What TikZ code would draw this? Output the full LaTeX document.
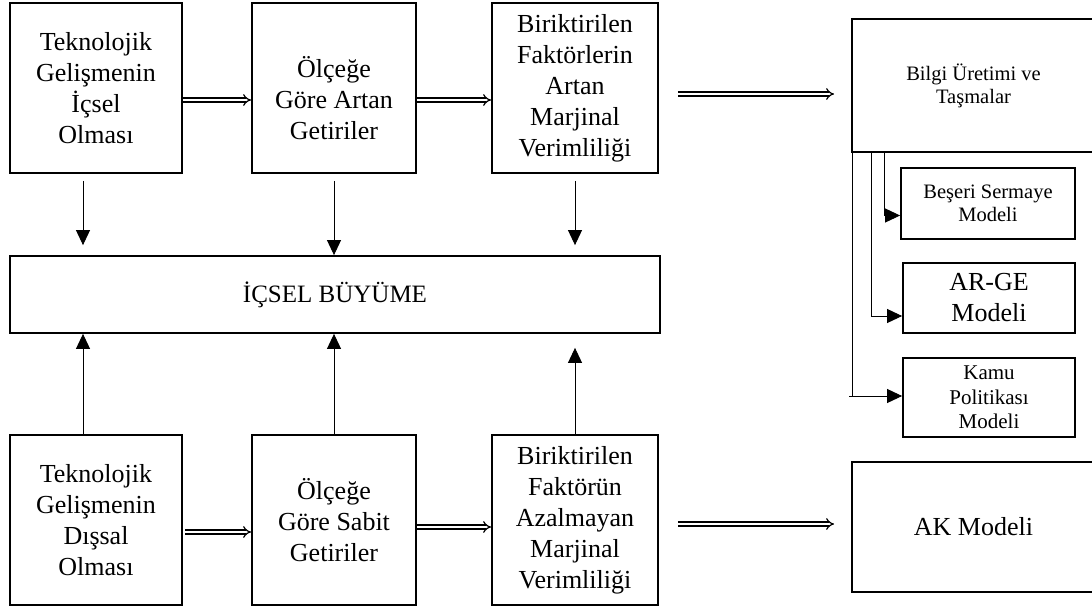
\documentclass[tikz,border=0pt]{standalone}
\usepackage{fontspec}
\setmainfont{Liberation Serif}
\usetikzlibrary{arrows.meta,calc}
\tikzset{
  bx/.style={draw, line width=1.8pt, align=center, inner sep=0pt, font=\fontsize{26}{31}\selectfont},
  smallbx/.style={draw, line width=1.8pt, align=center, inner sep=0pt, font=\fontsize{20.5}{23}\selectfont},
  txt/.style={align=center, inner sep=0pt, font=\fontsize{26}{31}\selectfont},
  arr/.style={line width=0.9pt, -{Triangle[length=15pt,width=14pt]}},
  dbl/.style={double, double distance=2.8pt, line width=1.2pt, -{Implies}},
}
\begin{document}
\begin{tikzpicture}[x=1pt,y=-1pt]
\useasboundingbox (0,0) rectangle (1092,610);
% top row
\node[bx, minimum width=172pt, minimum height=170pt] (t1) at (96,88) {Teknolojik\\Gelişmenin\\İçsel\\Olması};
\node[bx, minimum width=164pt, minimum height=170pt] (t2) at (334,88) {};
\node[txt] (t2txt) at (334,98) {Ölçeğe\\Göre Artan\\Getiriler};
\node[bx, minimum width=166pt, minimum height=170pt] (t3) at (575,88) {Biriktirilen\\Faktörlerin\\Artan\\Marjinal\\Verimliliği};
% middle
\node[bx, minimum width=650pt, minimum height=77pt, font=\fontsize{25}{29}\selectfont] (big) at (335,294.5) {İÇSEL BÜYÜME};
% bottom row
\node[bx, minimum width=172pt, minimum height=170pt] (b1) at (96,520) {Teknolojik\\Gelişmenin\\Dışsal\\Olması};
\node[bx, minimum width=164pt, minimum height=170pt] (b2) at (334,520) {Ölçeğe\\Göre Sabit\\Getiriler};
\node[bx, minimum width=166pt, minimum height=170pt] (b3) at (575,520) {Biriktirilen\\Faktörün\\Azalmayan\\Marjinal\\Verimliliği};
% right side
\node[smallbx, minimum width=243pt, minimum height=133pt] (bilgi) at (973.5,85.5) {Bilgi Üretimi ve\\Taşmalar};
\node[bx, minimum width=243pt, minimum height=130pt] (ak) at (973.5,527) {AK Modeli};
\node[smallbx, minimum width=174pt, minimum height=71pt] (beseri) at (988,203.5) {Beşeri Sermaye\\Modeli};
\node[bx, minimum width=172pt, minimum height=70pt] (arge) at (989,298) {AR-GE\\Modeli};
\node[smallbx, minimum width=172pt, minimum height=79pt, font=\fontsize{21}{24.5}\selectfont] (kamu) at (989,397.5) {Kamu\\Politikası\\Modeli};
% double arrows top
\draw[dbl] ([yshift=-12pt]t1.east) -- ([yshift=-12pt]t2.west);
\draw[dbl] ([yshift=-12pt]t2.east) -- ([yshift=-12pt]t3.west);
\draw[dbl] ([xshift=19pt,yshift=-6pt]t3.east) -- ([xshift=-17pt,yshift=-8.5pt]bilgi.west);
% double arrows bottom
\draw[dbl] ([xshift=2pt,yshift=-12pt]b1.east) -- ([yshift=-12pt]b2.west);
\draw[dbl] ([yshift=-7pt]b2.east) -- ([yshift=-7pt]b3.west);
\draw[dbl] ([xshift=19pt,yshift=-4pt]b3.east) -- ([xshift=-17pt,yshift=3pt]ak.west);
% down arrows
\draw[arr] ([xshift=-13pt,yshift=-7pt]t1.south) -- ([xshift=-13pt,yshift=10pt]t1.south |- big.north);
\draw[arr] ([yshift=-7pt]t2.south) -- (t2.south |- big.north);
\draw[arr] ([yshift=-7pt]t3.south) -- ([yshift=10pt]t3.south |- big.north);
% up arrows
\draw[arr] ([xshift=-13pt]b1.north) -- ([xshift=-13pt]b1.north |- big.south);
\draw[arr] (b2.north) -- (b2.north |- big.south);
\draw[arr] (b3.north) -- ([yshift=-14pt]b3.north |- big.south);
% right connectors
\draw[arr] ([xshift=33pt]bilgi.south west) |- ([yshift=-12pt]beseri.west);
\draw[arr] ([xshift=20pt]bilgi.south west) |- ([yshift=-18pt]arge.west);
\coordinate (kstub) at ([xshift=-53pt,yshift=1.5pt]kamu.west);
\draw[line width=0.9pt] ([xshift=1pt]bilgi.south west) -- ([xshift=1pt]bilgi.south west |- kstub);
\draw[arr] (kstub) -- ([yshift=1.5pt]kamu.west);
\end{tikzpicture}
\end{document}
